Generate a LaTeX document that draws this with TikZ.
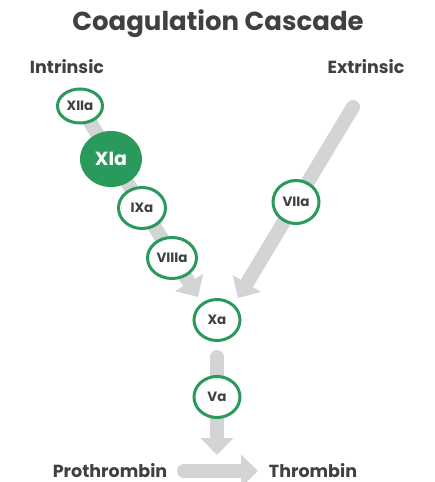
\documentclass[tikz,border=0pt]{standalone}
\usepackage{fontspec}
\setmainfont{Poppins}
\usetikzlibrary{arrows.meta,shapes.geometric,backgrounds}
\definecolor{ink}{HTML}{3F4042}
\definecolor{leaf}{HTML}{2A995C}
\definecolor{flow}{HTML}{D3D4D6}
\tikzset{
  title/.style={font=\fontsize{26}{31}\selectfont\bfseries, text=ink, inner sep=0pt},
  head/.style={font=\fontsize{17.5}{21}\selectfont\bfseries, text=ink, inner sep=0pt},
  factor/.style={ellipse, draw=leaf, line width=3pt, fill=white, inner sep=0pt,
    minimum width=46pt, minimum height=41pt,
    font=\fontsize{13.5}{16}\selectfont\bfseries, text=ink},
  active/.style={ellipse, fill=leaf, inner sep=0pt, minimum width=62pt, minimum height=56pt,
    font=\fontsize{19}{22}\selectfont\bfseries, text=white},
  flowline/.style={draw=flow, line width=14pt, line cap=round,
    -{Triangle[width=32pt,length=17pt]}}
}
\begin{document}
\begin{tikzpicture}[x=1pt,y=-1pt]
\useasboundingbox (0,0) rectangle (435,482);

% headings
\node[title] (title) at (218,24) {Coagulation Cascade};
\node[head] (intr) at (67,67) {Intrinsic};
\node[head] (extr) at (366,67) {Extrinsic};

% intrinsic pathway
\node[factor, minimum width=45pt, minimum height=34pt] (xii) at (80,106) {XIIa};
\node[active] (xi) at (111,159) {XIa};
\node[factor, minimum width=47pt] (ix) at (142,208) {IXa};
\node[factor, minimum width=49pt] (viii) at (172,258) {VIIIa};

% extrinsic pathway
\coordinate (extstart) at (353,107);
\node[factor, minimum height=43pt] (vii) at (296,202) {VIIa};

% common pathway
\node[factor] (xa) at (217,320) {Xa};
\node[factor] (va) at (217,397) {Va};
\node[head, anchor=base] (pro) at (110,477) {Prothrombin};
\node[head, anchor=base] (thr) at (313,477) {Thrombin};

\coordinate (inttip) at (198,297);
\coordinate (exttip) at (238,298);
\coordinate (downstart) at (217,357);
\coordinate (downtip) at (217,455);
\coordinate (sidestart) at (184,471);
\coordinate (sidetip) at (258,471);

\begin{scope}[on background layer]
  \draw[flowline] (xii.center) -- (inttip);
  \draw[flowline] (extstart) -- (exttip);
  \draw[flowline] (downstart) -- (downtip);
  \draw[flowline] (sidestart) -- (sidetip);
\end{scope}
\end{tikzpicture}
\end{document}
